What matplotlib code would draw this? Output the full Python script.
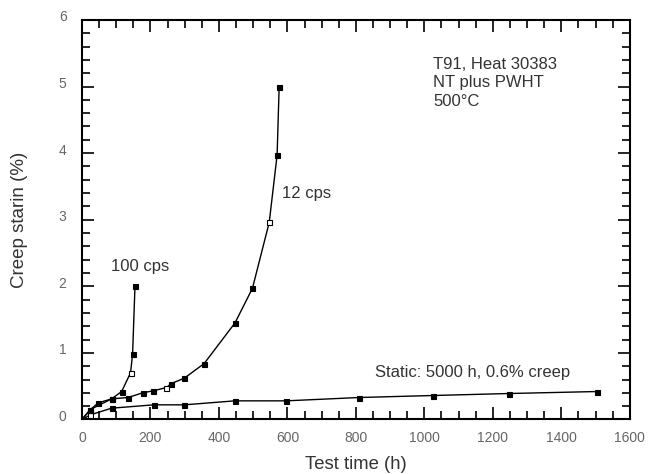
import matplotlib
matplotlib.use("Agg")
import matplotlib.pyplot as plt
from matplotlib.ticker import MultipleLocator
from matplotlib.transforms import ScaledTranslation

plt.rcParams['font.family'] = ['Liberation Sans', 'DejaVu Sans']

# 100 cps series
t_100 = [0, 25, 48, 87, 116, 142, 148, 155]
e_100 = [0, 0.15, 0.25, 0.31, 0.42, 0.70, 0.98, 2.0]
open_100 = [False, False, False, False, False, True, False, False]

# 12 cps series
t_12 = [0, 25, 87, 135, 177, 208, 247, 261, 299, 357, 447, 498, 547, 570, 576]
e_12 = [0, 0.15, 0.31, 0.33, 0.40, 0.43, 0.48, 0.54, 0.62, 0.84, 1.45, 1.97, 2.96, 3.97, 5.0]
open_12 = [False]*6 + [True] + [False]*5 + [True] + [False]*2

# Static series
t_st = [0, 25, 87, 210, 299, 447, 597, 809, 1024, 1247, 1505]
e_st = [0, 0.07, 0.17, 0.22, 0.22, 0.28, 0.28, 0.33, 0.36, 0.39, 0.42]
open_st = [False, True] + [False]*9

fig = plt.figure(figsize=(6.5, 4.74), dpi=100)
ax = fig.add_axes([0.126, 0.115, 0.843, 0.843])

def draw(t, e, op):
    ax.plot(t, e, '-', color='black', lw=1.0, zorder=2)
    for x, y, o in zip(t, e, op):
        ax.plot([x], [y], 's', ms=3.6, mec='black', mew=0.8,
                mfc='white' if o else 'black', zorder=3)

draw(t_st, e_st, open_st)
draw(t_12, e_12, open_12)
draw(t_100, e_100, open_100)

ax.set_xlim(0, 1600)
ax.set_ylim(0, 6)
ax.xaxis.set_major_locator(MultipleLocator(200))
ax.xaxis.set_minor_locator(MultipleLocator(50))
ax.yaxis.set_major_locator(MultipleLocator(1))
ax.yaxis.set_minor_locator(MultipleLocator(0.2))
ax.tick_params(which='both', direction='in', top=True, right=True,
               labelsize=10, labelcolor='#666666', width=1.2)
ax.tick_params(which='major', length=8.5)
ax.tick_params(which='minor', length=5.5)
ax.tick_params(axis='x', which='major', pad=8)
ax.tick_params(axis='y', which='major', pad=11)
for s in ax.spines.values():
    s.set_linewidth(1.5)

off = ScaledTranslation(0, 4/100, fig.dpi_scale_trans)
for tk in ax.yaxis.get_major_ticks():
    tk.label1.set_transform(tk.label1.get_transform() + off)

ax.set_xlabel('Test time (h)', fontsize=13.3, color='#333333', labelpad=8)
ax.set_ylabel('Creep starin (%)', fontsize=13.5, color='#333333', labelpad=22)

ax.text(1025, 5.45, 'T91, Heat 30383\nNT plus PWHT\n500°C', fontsize=12,
        color='#333333', va='top', ha='left', linespacing=1.3)
ax.text(584, 3.40, '12 cps', fontsize=12, color='#333333', va='center', ha='left')
ax.text(85, 2.29, '100 cps', fontsize=12, color='#333333', va='center', ha='left')
ax.text(855, 0.70, 'Static: 5000 h, 0.6% creep', fontsize=12, color='#333333',
        va='center', ha='left')

fig.savefig('out.png', dpi=100)
